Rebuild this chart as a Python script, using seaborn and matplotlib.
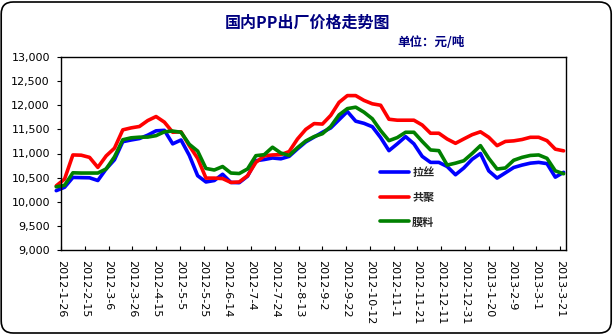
import matplotlib
matplotlib.use("Agg")
import matplotlib.pyplot as plt
import matplotlib.ticker as mticker
from matplotlib.patches import FancyBboxPatch
import seaborn as sns
import pandas as pd

# ---------------- data ----------------
start_date = "2012-01-22"
n_points = 62  # weekly observations

lasi = [10230, 10300, 10504, 10500, 10497, 10440, 10680, 10870, 11245, 11280,
        11310, 11380, 11470, 11480, 11200, 11280, 10960, 10540, 10410, 10440,
        10570, 10400, 10395, 10530, 10850, 10875, 10907, 10890, 10940, 11095,
        11240, 11340, 11440, 11530, 11700, 11870, 11670, 11625, 11555, 11330,
        11059, 11200, 11350, 11200, 10940, 10816, 10816, 10730, 10560, 10700,
        10880, 11000, 10640, 10490, 10600, 10710, 10760, 10800, 10816, 10790,
        10510, 10610]

gongju = [10330, 10470, 10970, 10965, 10920, 10712, 10950, 11110, 11490, 11531,
          11560, 11683, 11766, 11650, 11440, 11450, 11160, 10900, 10490, 10490,
          10480, 10400, 10410, 10540, 10816, 10950, 10970, 10976, 11040, 11300,
          11500, 11620, 11610, 11790, 12060, 12200, 12200, 12100, 12030, 12000,
          11710, 11690, 11690, 11690, 11590, 11420, 11420, 11300, 11211, 11302,
          11390, 11450, 11336, 11163, 11250, 11262, 11290, 11336, 11336, 11266,
          11090, 11055]

moliao = [10310, 10340, 10600, 10595, 10595, 10595, 10680, 10930, 11285, 11325,
          11338, 11340, 11370, 11450, 11465, 11440, 11190, 11050, 10690, 10658,
          10730, 10595, 10585, 10680, 10955, 10975, 11130, 11010, 10960, 11120,
          11260, 11350, 11410, 11560, 11800, 11930, 11960, 11856, 11720, 11475,
          11266, 11330, 11440, 11440, 11250, 11073, 11059, 10760, 10800, 10850,
          11000, 11163, 10900, 10678, 10700, 10860, 10920, 10960, 10970, 10900,
          10640, 10580]

series_names = ["拉丝", "共聚", "膜料"]
series_colors = ["#0000FF", "#FF0000", "#008000"]

tick_labels = ["2012-1-26", "2012-2-15", "2012-3-6", "2012-3-26", "2012-4-15",
               "2012-5-5", "2012-5-25", "2012-6-14", "2012-7-4", "2012-7-24",
               "2012-8-13", "2012-9-2", "2012-9-22", "2012-10-12", "2012-11-1",
               "2012-11-21", "2012-12-11", "2012-12-31", "2013-1-20", "2013-2-9",
               "2013-3-1", "2013-3-21"]

y_ticks = [9000, 9500, 10000, 10500, 11000, 11500, 12000, 12500, 13000]

title = "国内PP出厂价格走势图"
subtitle = "单位：元/吨"

# ---------------- build frame ----------------
dates = pd.date_range(start_date, periods=n_points, freq="7D")
df = pd.concat([
    pd.DataFrame({"date": dates, "price": vals, "series": name})
    for name, vals in zip(series_names, [lasi, gongju, moliao])
], ignore_index=True)

# ---------------- figure ----------------
sns.set_theme(style="white")
plt.rcParams["font.family"] = ["DejaVu Sans", "Noto Sans CJK SC"]

W, H = 614, 335
fig = plt.figure(figsize=(W / 100, H / 100), dpi=100)
fig.patch.set_facecolor("white")

L, R, T, B = 61, 566, 57, 250
ax = fig.add_axes([L / W, 1 - B / H, (R - L) / W, (B - T) / H])

sns.lineplot(data=df, x="date", y="price", hue="series", hue_order=series_names,
             palette=series_colors, linewidth=2.6, ax=ax, legend=True)
for ln in ax.get_lines():
    ln.set_clip_on(False)
    ln.set_solid_joinstyle("round")

ax.set_xlim(pd.Timestamp("2012-01-26"), pd.Timestamp("2013-03-26"))
ax.set_ylim(9000, 13000)
ax.set_yticks(y_ticks)
ax.yaxis.set_major_formatter(mticker.FuncFormatter(lambda v, p: f"{int(v):,}"))
tick_pos = [pd.Timestamp(t) for t in tick_labels]
ax.set_xticks(tick_pos)
ax.set_xticklabels(tick_labels, rotation=-90, va="top", ha="center")
ax.set_xlabel("")
ax.set_ylabel("")

ax.tick_params(axis="y", direction="out", length=3, width=0.8, pad=5,
               labelsize=8, colors="black", left=True)
ax.tick_params(axis="x", direction="in", length=3, width=0.8, pad=7,
               labelsize=8, colors="black", bottom=True)
for s in ax.spines.values():
    s.set_visible(True)
    s.set_color("black")
    s.set_linewidth(1.0)
ax.set_facecolor("white")
ax.grid(False)

handles, labels = ax.get_legend_handles_labels()
leg = ax.legend(handles, labels, loc="upper left",
                bbox_to_anchor=(380 / W, 1 - 166 / H), bbox_transform=fig.transFigure,
                frameon=False, borderpad=0, borderaxespad=0,
                handlelength=2.6, handletextpad=0.3, labelspacing=1.05,
                prop={"family": ["Noto Sans CJK SC"], "size": 8, "weight": "bold"})
for h in leg.get_lines():
    h.set_linewidth(2.6)

fig.text(307 / W, 1 - 23 / H, title, ha="center", va="center", fontsize=11.5,
         fontweight="bold", color="#000080", family=["Noto Sans CJK SC", "DejaVu Sans"])
fig.text(431 / W, 1 - 43 / H, subtitle, ha="center", va="center", fontsize=9,
         fontweight="bold", color="#000080", family=["Noto Sans CJK SC", "DejaVu Sans"])

# rounded outer border
border = FancyBboxPatch((0.012, 0.02), 6.10, 3.31,
                        boxstyle="round,pad=0,rounding_size=0.12",
                        transform=fig.dpi_scale_trans, fill=False,
                        edgecolor="black", linewidth=1.2)
fig.patches.append(border)

fig.savefig("out.png", dpi=100)
